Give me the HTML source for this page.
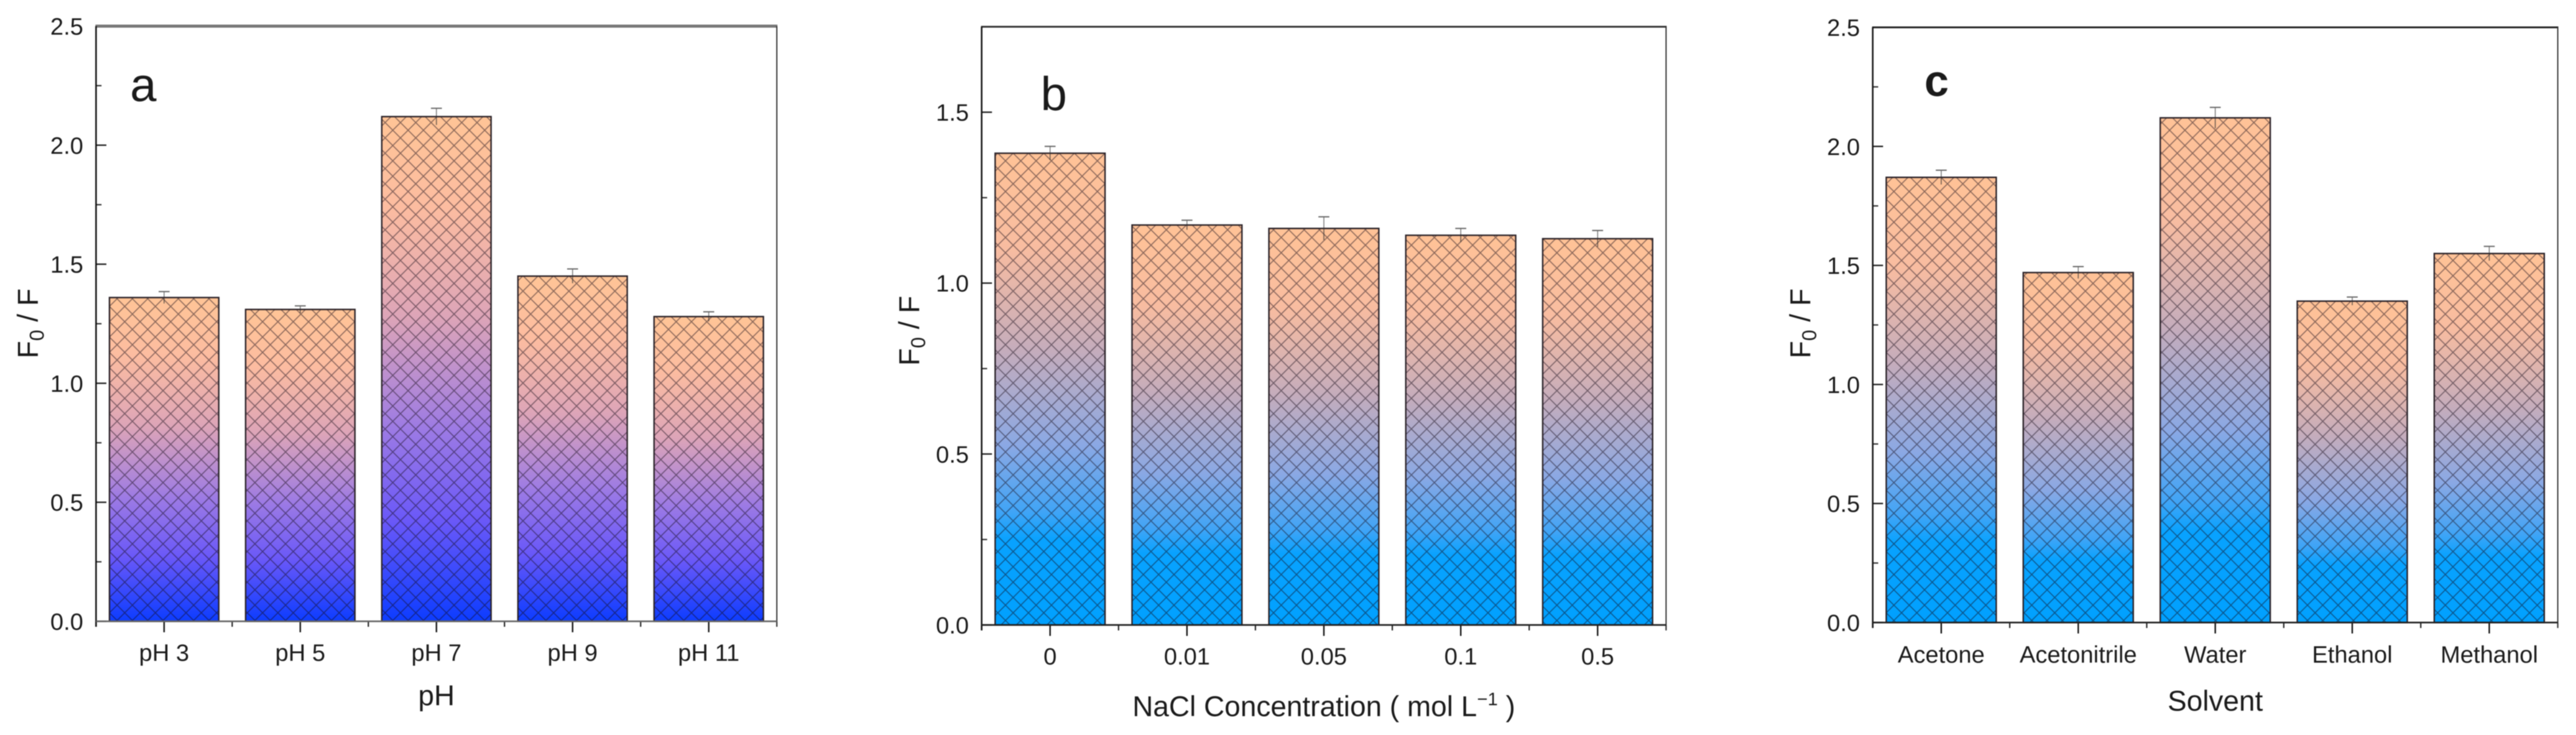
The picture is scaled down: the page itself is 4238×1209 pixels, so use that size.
<!DOCTYPE html>
<html>
<head>
<meta charset="utf-8">
<style>
html,body{margin:0;padding:0;background:#fff;width:4238px;height:1209px;overflow:hidden}
svg{display:block;filter:blur(0.8px)}
text{font-family:"Liberation Sans",sans-serif;fill:#1a1a1a}
</style>
</head>
<body>
<svg id="fig" xmlns="http://www.w3.org/2000/svg" width="4238" height="1209" viewBox="0 0 4238 1209">
<defs>
<pattern id="hatch" patternUnits="userSpaceOnUse" width="25.2" height="25.2" patternTransform="translate(180 0)">
<path d="M0 0L25.2 25.2M25.2 0L0 25.2" stroke="#140a18" stroke-opacity="0.5" stroke-width="1.6" fill="none"/>
</pattern>
<linearGradient id="grad-violet" x1="0" y1="0" x2="0" y2="1">
<stop offset="0" stop-color="#ffc496"/>
<stop offset="0.18" stop-color="#fcbca0"/>
<stop offset="0.4" stop-color="#dca4b8"/>
<stop offset="0.62" stop-color="#9c7ae4"/>
<stop offset="0.8" stop-color="#6a58f8"/>
<stop offset="1" stop-color="#0c3cff"/>
</linearGradient>
<linearGradient id="grad-sky" x1="0" y1="0" x2="0" y2="1">
<stop offset="0" stop-color="#ffc296"/>
<stop offset="0.2" stop-color="#f8bca0"/>
<stop offset="0.42" stop-color="#c4acbc"/>
<stop offset="0.62" stop-color="#8aa8e4"/>
<stop offset="0.76" stop-color="#40a4f6"/>
<stop offset="0.82" stop-color="#08a2ff"/>
<stop offset="1" stop-color="#00a0ff"/>
</linearGradient>
</defs>
</svg>
<script>
const categoriesA = ["pH 3", "pH 5", "pH 7", "pH 9", "pH 11"];
const valuesA = [1.36, 1.31, 2.12, 1.45, 1.28];
const errorsA = [0.025, 0.015, 0.035, 0.03, 0.02];
const yTicksA = ["0.0", "0.5", "1.0", "1.5", "2.0", "2.5"];

const categoriesB = ["0", "0.01", "0.05", "0.1", "0.5"];
const valuesB = [1.38, 1.17, 1.16, 1.14, 1.13];
const errorsB = [0.02, 0.014, 0.034, 0.02, 0.024];
const yTicksB = ["0.0", "0.5", "1.0", "1.5"];

const categoriesC = ["Acetone", "Acetonitrile", "Water", "Ethanol", "Methanol"];
const valuesC = [1.87, 1.47, 2.12, 1.35, 1.55];
const errorsC = [0.03, 0.025, 0.044, 0.017, 0.03];
const yTicksC = ["0.0", "0.5", "1.0", "1.5", "2.0", "2.5"];

const NS = "http://www.w3.org/2000/svg";
const fig = document.getElementById("fig");

function mk(tag, attrs, parent) {
  const el = document.createElementNS(NS, tag);
  for (const k in attrs) el.setAttribute(k, attrs[k]);
  (parent || fig).appendChild(el);
  return el;
}

function drawPanel(p) {
  const g = mk("g", {});
  
  
  const yScale = v => p.bottom - (v / p.yMax) * (p.bottom - p.top);
  const band = (p.right - p.left) / p.categories.length;
  const xScale = i => p.left + band * (i + 0.5);

  p.values.forEach((v, i) => {
    const w = band * 0.803;
    const x = xScale(i) - w / 2;
    const y = yScale(v);
    const h = p.bottom - y;
    const err = p.errors[i];

    const ebar = mk("line", {x1: xScale(i), x2: xScale(i), y1: yScale(v + err), y2: y, stroke: "#777", "stroke-width": 1.5}, g);
    
    
    const cap = mk("line", {x1: xScale(i) - 9, x2: xScale(i) + 9, y1: yScale(v + err), y2: yScale(v + err), stroke: "#666", "stroke-width": 2}, g);
    
    

    const bar = mk("rect", {x: x, y: y, width: w, height: h, fill: "url(#" + p.gradient + ")"}, g);
    
    
    const hatch = mk("rect", {x: x, y: y, width: w, height: h, fill: "url(#hatch)", stroke: "#2a2228", "stroke-width": 2.4}, g);
    
    

    const lowerErr = mk("line", {x1: xScale(i), x2: xScale(i), y1: y, y2: yScale(v - err), stroke: "#333", "stroke-opacity": 0.7, "stroke-width": 1.6}, g);
    
    

    const tick = mk("line", {x1: xScale(i), x2: xScale(i), y1: p.bottom, y2: p.bottom + 18, stroke: "#111", "stroke-width": 2.4}, g);
    
    

    const lab = mk("text", {x: xScale(i), y: p.xLabelY, "text-anchor": "middle", "font-size": 39}, g);
    lab.textContent = p.categories[i];
    
    
  });

  for (let i = 0; i <= p.categories.length; i++) {
    const mx = p.left + band * i;
    const minor = mk("line", {x1: mx, x2: mx, y1: p.bottom, y2: p.bottom + 9, stroke: "#222", "stroke-width": 2.2}, g);
    
    
  }

  p.yTicks.forEach((t, i) => {
    const v = parseFloat(t);
    const yy = yScale(v);
    const tk = mk("line", {x1: p.left, x2: p.left + 17, y1: yy, y2: yy, stroke: "#222", "stroke-width": 2.4}, g);
    
    
    const lab = mk("text", {x: p.left - 21, y: yy + 14, "text-anchor": "end", "font-size": 39}, g);
    lab.textContent = t;
    
    
    if (v + 0.25 < p.yMax) {
      const my = yScale(v + 0.25);
      const mn = mk("line", {x1: p.left, x2: p.left + 9, y1: my, y2: my, stroke: "#333", "stroke-width": 2.2}, g);
      
      
    }
  });

  const frameTop = mk("line", {x1: p.left - 1, x2: p.right + 1, y1: p.top, y2: p.top, stroke: p.topColor, "stroke-width": p.topWidth}, g);
  
  
  const frameRight = mk("line", {x1: p.right, x2: p.right, y1: p.top, y2: p.bottom + 9, stroke: "#333", "stroke-width": 2}, g);
  
  
  const frameLeft = mk("line", {x1: p.left, x2: p.left, y1: p.top, y2: p.bottom + 9, stroke: "#111", "stroke-width": 2.6}, g);
  
  
  const frameBottom = mk("line", {x1: p.left, x2: p.right, y1: p.bottom, y2: p.bottom, stroke: p.baseColor, "stroke-width": 2.8}, g);
  
  

  const letter = mk("text", {x: p.letterX, y: p.letterY, "font-size": p.letterSize, "font-weight": p.letterWeight}, g);
  letter.textContent = p.id;
  
  

  const xt = mk("text", {x: (p.left + p.right) / 2, y: p.xTitleY, "text-anchor": "middle", "font-size": 47}, g);
  
  
  xt.appendChild(document.createTextNode(p.xTitle));
  if (p.xTitleSup) {
    const sup = mk("tspan", {dy: -18, "font-size": 30}, xt);
    
    
    sup.textContent = p.xTitleSup;
    const close = mk("tspan", {dy: 18}, xt);
    
    
    close.textContent = " )";
  }

  const yt = mk("text", {transform: "translate(" + p.yTitleX + " " + p.yTitleY + ") rotate(-90)", "text-anchor": "middle", "font-size": 47}, g);
  
  
  yt.appendChild(document.createTextNode("F"));
  const sub = mk("tspan", {dy: 10, "font-size": 33}, yt);
  
  
  sub.textContent = "0";
  const rest = mk("tspan", {dy: -10}, yt);
  
  
  rest.textContent = " / F";
}

drawPanel({id: "a", left: 158, right: 1278, top: 43, bottom: 1022, yMax: 2.5,
  categories: categoriesA, values: valuesA, errors: errorsA, yTicks: yTicksA,
  gradient: "grad-violet", xLabelY: 1087, xTitle: "pH", xTitleY: 1160,
  yTitleX: 62, yTitleY: 532, letterX: 214, letterY: 166, letterSize: 78, letterWeight: 400,
  topColor: "#777", topWidth: 5, baseColor: "#666"});

drawPanel({id: "b", left: 1615, right: 2741, top: 44, bottom: 1028, yMax: 1.75,
  categories: categoriesB, values: valuesB, errors: errorsB, yTicks: yTicksB,
  gradient: "grad-sky", xLabelY: 1093, xTitle: "NaCl Concentration ( mol L", xTitleSup: "\u22121", xTitleY: 1178,
  yTitleX: 1512, yTitleY: 544, letterX: 1712, letterY: 181, letterSize: 78, letterWeight: 400,
  topColor: "#333", topWidth: 3, baseColor: "#222"});

drawPanel({id: "c", left: 3081, right: 4208, top: 45, bottom: 1024, yMax: 2.5,
  categories: categoriesC, values: valuesC, errors: errorsC, yTicks: yTicksC,
  gradient: "grad-sky", xLabelY: 1090, xTitle: "Solvent", xTitleY: 1169,
  yTitleX: 2978, yTitleY: 532, letterX: 3166, letterY: 158, letterSize: 72, letterWeight: 700,
  topColor: "#222", topWidth: 3, baseColor: "#222"});
</script>
</body>
</html>
